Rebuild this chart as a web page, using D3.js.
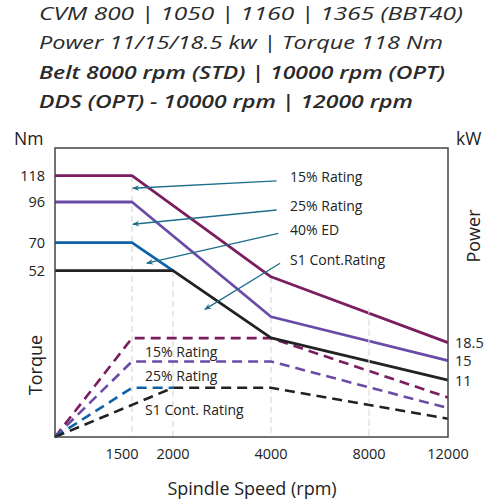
<!DOCTYPE html>
<html><head><meta charset="utf-8">
<script src="https://cdn.jsdelivr.net/npm/d3@7/dist/d3.min.js"></script>
<style>body{margin:0;background:#fff}svg{display:block}</style>
</head><body><div id="chart"></div>
<script>
// ---- data ----
const titleLines = ["CVM 800 | 1050 | 1160 | 1365 (BBT40)","Power 11/15/18.5 kw | Torque 118 Nm","Belt 8000 rpm (STD) | 10000 rpm (OPT)","DDS (OPT) - 10000 rpm  | 12000 rpm"];
const speedTicks = [1500, 2000, 4000, 8000, 12000];
const torqueTicks = [118, 96, 70, 52];
const powerTicks = [18.5, 15, 11];
const seriesNames = ["15% Rating", "25% Rating", "40% ED", "S1 Cont.Rating"];
const seriesColors = ["#7b1d5e", "#6a4ca6", "#0e62a8", "#222222"];
// torque curves [rpm, Nm]
const torque15 = [[0,118],[1500,118],[4000,50.1],[12000,29.5]];
const torque25 = [[0,96],[1500,96],[4000,37.6],[12000,23.9]];
const torque40 = [[0,70],[1500,70],[2000,52]];
const torqueS1 = [[0,52],[2000,52],[4000,31],[12000,17.8]];
// power curves [rpm, kW]
const power15 = [[0,0],[1500,19.5],[4000,19.5],[12000,7.8]];
const power25 = [[0,0],[1500,14.9],[4000,14.9],[12000,5.7]];
const power40 = [[0,0],[1500,9.7],[2000,9.7]];
const powerS1 = [[0,0],[2000,9.7],[4000,9.7],[12000,3.6]];
// annotation arrows [tail rpm, tail Nm, tip rpm, tip Nm]
const arrows = [[4230,113.6,1510,107.5],[4230,90.9,1510,81.8],[4300,76,1680,56.8],[4370,56.8,2650,39.9]];
const powerLabels = ["15% Rating", "25% Rating", "S1 Cont. Rating"];
const powerLabelLevels = [15.8, 11.0, 4.3];

// ---- chart ----
const W = 500, H = 500;
const svg = d3.select("#chart").append("svg").attr("width", W).attr("height", H);
const font = "'Open Sans', sans-serif";

const x = d3.scaleLinear().domain([0,1500,2000,4000,8000,12000]).range([55,132,173,271,369,448]);
const yT = d3.scaleLinear().domain([0,52,70,96,118]).range([437,270.7,242.7,202,175.7]);
const yP = d3.scaleLinear().domain([0,57]).range([437,148]);
const x0 = 55, x1 = 448, y0 = 437, y1 = 148;

// title
const tBase = [19.5, 49, 79, 108];
const tLen = [424, 404, 406, 374];
svg.append("g").selectAll("text").data(titleLines).join("text")
  .attr("x", 39).attr("y", (d,i)=>tBase[i])
  .attr("textLength", (d,i)=>tLen[i]).attr("lengthAdjust","spacingAndGlyphs")
  .attr("font-family", font).attr("font-style","italic")
  .attr("font-weight", (d,i)=> i<2 ? 400 : 600)
  .attr("font-size", (d,i)=> i<2 ? 19 : 18).attr("fill","#2a2a2a").text(d=>d);

const lineT = d3.line().x(d=>x(d[0])).y(d=>yT(d[1]));
const lineP = d3.line().x(d=>x(d[0])).y(d=>yP(d[1]));
const tData = [torque15, torque25, torque40, torqueS1];
const pData = [power15, power25, power40, powerS1];

function valueAt(curve, s){
  for (let i=0;i<curve.length-1;i++){
    const a=curve[i], b=curve[i+1];
    if (s>=a[0] && s<=b[0]) return a[1] + (b[1]-a[1])*(s-a[0])/(b[0]-a[0]);
  }
  return 0;
}

// vertical guide lines (from top curve down)
const gl = svg.append("g");
speedTicks.slice(0,4).forEach(s=>{
  const topCurve = s===2000 ? torqueS1 : torque15;
  gl.append("line").attr("x1",x(s)).attr("x2",x(s)).attr("y1",yT(valueAt(topCurve,s))).attr("y2",y0)
    .attr("stroke","#dcdcdc").attr("stroke-width",1.3).attr("stroke-dasharray","6,4");
});

const lg = svg.append("g").attr("fill","none");
pData.forEach((d,i)=>{
  lg.append("path").attr("d", lineP(d)).attr("stroke", seriesColors[i])
    .attr("stroke-width", 2.6).attr("stroke-dasharray","10,6");
});
tData.forEach((d,i)=>{
  lg.append("path").attr("d", lineT(d)).attr("stroke", seriesColors[i])
    .attr("stroke-width", 2.8).attr("stroke-linejoin","round");
});

// light marks where the 8000 guide crosses the lines
svg.append("line").attr("x1",x(8000)).attr("x2",x(8000)).attr("y1",yT(valueAt(torque15,8000))-2).attr("y2",y0)
  .attr("stroke","#ececec").attr("stroke-width",1.1).attr("stroke-dasharray","6,4");

// frame
svg.append("rect").attr("x",x0).attr("y",y1).attr("width",x1-x0).attr("height",y0-y1)
  .attr("fill","none").attr("stroke","#444").attr("stroke-width",1.5);

// arrows
const defs = svg.append("defs");
defs.append("marker").attr("id","ah").attr("viewBox","0 0 10 10").attr("refX",9).attr("refY",5)
  .attr("markerUnits","userSpaceOnUse").attr("markerWidth",7).attr("markerHeight",7).attr("orient","auto")
  .append("path").attr("d","M0,1 L10,5 L0,9 L3,5 Z").attr("fill","#1f6d8c");
const ag = svg.append("g");
arrows.forEach((a,i)=>{
  ag.append("line").attr("x1",x(a[0])).attr("y1",yT(a[1])).attr("x2",x(a[2])).attr("y2",yT(a[3]))
    .attr("stroke","#1f6d8c").attr("stroke-width",1.3).attr("marker-end","url(#ah)");
  ag.append("text").attr("x", x(4780)).attr("y", yT(a[1]) + 1.5)
    .attr("font-family",font).attr("font-size",14).attr("fill","#222").text(seriesNames[i]);
});

// power labels
svg.append("g").selectAll("text").data(powerLabels).join("text")
  .attr("x", x(1660)).attr("y",(d,i)=>yP(powerLabelLevels[i]))
  .attr("font-family",font).attr("font-size",14).attr("fill","#222").text(d=>d);

// left axis ticks
svg.append("g").selectAll("text").data(torqueTicks).join("text")
  .attr("x",45).attr("y",d=>yT(d)).attr("dy","0.35em").attr("text-anchor","end")
  .attr("font-family",font).attr("font-size",14.5).attr("fill","#222").text(d=>d);
// right axis ticks
svg.append("g").selectAll("text").data(powerTicks).join("text")
  .attr("x",455).attr("y",d=>yP(d)).attr("dy","0.35em")
  .attr("font-family",font).attr("font-size",14.5).attr("fill","#222").text(d=>d);
// x ticks
svg.append("g").selectAll("text").data(speedTicks).join("text")
  .attr("x",d=>x(d) + (d===1500 ? -10 : 0)).attr("y",459).attr("text-anchor","middle")
  .attr("font-family",font).attr("font-size",14.5).attr("fill","#222").text(d=>d);

// axis titles
svg.append("text").attr("x",14).attr("y",145).attr("font-family",font).attr("font-size",17.5).attr("fill","#222").text("Nm");
svg.append("text").attr("x",456).attr("y",145).attr("font-family",font).attr("font-size",17.5).attr("fill","#222").text("kW");
svg.append("text").attr("transform","translate(42,365) rotate(-90)").attr("text-anchor","middle")
  .attr("font-family",font).attr("font-size",18).attr("fill","#222").text("Torque");
svg.append("text").attr("transform","translate(480,236) rotate(-90)").attr("text-anchor","middle")
  .attr("font-family",font).attr("font-size",18).attr("fill","#222").text("Power");
svg.append("text").attr("x",252).attr("y",495).attr("text-anchor","middle")
  .attr("font-family",font).attr("font-size",18).attr("fill","#222").text("Spindle Speed (rpm)");
</script></body></html>
